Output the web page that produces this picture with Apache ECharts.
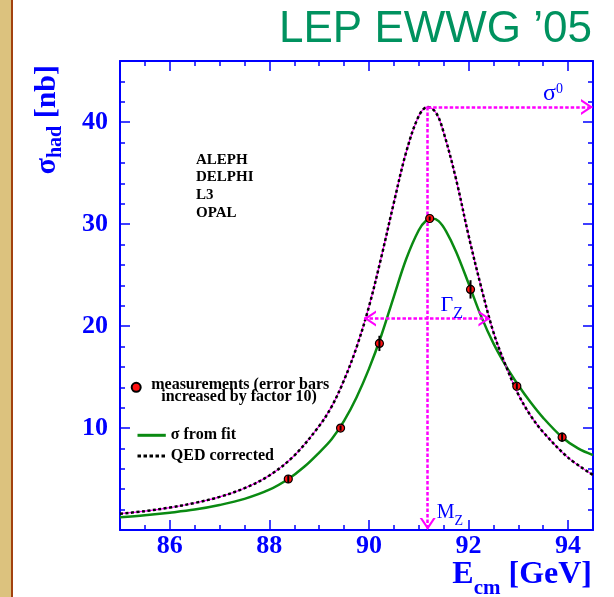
<!DOCTYPE html>
<html lang="en">
<head>
  <meta charset="UTF-8">
  <title>Z lineshape</title>
  <script src="https://cdn.jsdelivr.net/npm/echarts@6.0.0/dist/echarts.min.js"></script>
  <style>
    html, body { margin: 0; padding: 0; }
    body { background: linear-gradient(to right, #dcc27e 0, #dcc27e 11px, #a2410f 11px, #a2410f 13px, #fff 13px); }
    #chart { width: 614px; height: 597px; }
  </style>
</head>
<body>
  <div id="chart"></div>
  <script>
    // measurements (errors already x10)
    const measE = [88.38, 89.43, 90.21, 91.22, 92.04, 92.97, 93.88]
    const measSigma = [5.0, 10.0, 18.3, 30.55, 23.6, 14.1, 9.1]
    const measErr = [0.4, 0.25, 0.75, 0.2, 0.9, 0.3, 0.45]

    // sigma from fit (green)
    const fitE = [85.0, 85.5, 86.0, 86.5, 87.0, 87.5, 88.0, 88.38, 88.7, 89.0, 89.25, 89.5, 89.75, 90.0, 90.25, 90.5, 90.75, 91.0, 91.15, 91.27, 91.4, 91.55, 91.75, 92.0, 92.25, 92.5, 92.75, 93.0, 93.25, 93.5, 93.88, 94.2, 94.5]
    const fitSigma = [1.25, 1.45, 1.7, 2.0, 2.45, 3.05, 3.95, 5.0, 6.2, 7.6, 8.9, 10.7, 13.0, 15.8, 19.1, 22.9, 26.6, 29.4, 30.35, 30.55, 30.3, 29.3, 27.3, 24.2, 21.0, 18.3, 16.1, 14.2, 12.5, 11.0, 9.1, 8.0, 7.35]

    // QED corrected (dotted)
    const qedE = [85.0, 85.5, 86.0, 86.5, 87.0, 87.5, 88.0, 88.5, 89.0, 89.25, 89.5, 89.75, 90.0, 90.25, 90.5, 90.75, 91.0, 91.18, 91.35, 91.5, 91.75, 92.0, 92.25, 92.5, 92.75, 93.0, 93.25, 93.5, 94.0, 94.5]
    const qedSigma = [1.6, 1.85, 2.2, 2.65, 3.25, 4.1, 5.35, 7.3, 10.2, 12.1, 14.7, 17.9, 21.9, 26.8, 32.1, 37.1, 40.6, 41.5, 40.9, 39.0, 34.4, 28.9, 23.9, 19.4, 16.1, 13.3, 11.2, 9.6, 7.1, 5.4]

    const xTicks = [86, 88, 90, 92, 94]
    const yTicks = [10, 20, 30, 40]

    // annotation positions
    const MZ = 91.18
    const SIGMA0 = 41.5
    const HALF = 20.75
    const GAMMA_LO = 89.9
    const GAMMA_HI = 92.44

    const blue = '#0000ff'
    const magenta = '#ff00ff'
    const serif = 'Liberation Serif'
    const chevron = 'path://M0,12L8,0L16,12L13.5,12L8,3.75L2.5,12Z'

    const dom = document.getElementById('chart')
    const myChart = echarts.init(dom)

    const pairs = (xs, ys) => xs.map((x, i) => [x, ys[i]])

    function xAxisOf(pos, major, withLine) {
      return {
        type: 'value', position: pos, min: 85, max: 94.5, interval: 0.5,
        axisLine: { show: withLine, onZero: false, lineStyle: { color: blue, width: 2 } },
        axisTick: major
          ? { inside: true, length: 10, customValues: xTicks, lineStyle: { color: blue, width: 1.5 } }
          : { inside: true, length: 5, lineStyle: { color: blue, width: 1.5 } },
        axisLabel: { show: false },
        splitLine: { show: false }
      }
    }
    function yAxisOf(pos, major, withLine) {
      return {
        type: 'value', position: pos, min: 0, max: 46, interval: 2,
        axisLine: { show: withLine, onZero: false, lineStyle: { color: blue, width: 2 } },
        axisTick: major
          ? { inside: true, length: 10, customValues: yTicks, lineStyle: { color: blue, width: 1.5 } }
          : { inside: true, length: 5, lineStyle: { color: blue, width: 1.5 } },
        axisLabel: { show: false },
        splitLine: { show: false }
      }
    }

    const xMain = xAxisOf('bottom', false, true)
    xMain.axisLabel = { show: true, customValues: xTicks, color: blue, fontFamily: serif, fontWeight: 'bold', fontSize: 26, margin: 3 }
    xMain.name = '{s|E}{sub|cm} {s|[GeV]}'
    xMain.nameLocation = 'end'
    xMain.nameGap = -1
    xMain.nameTextStyle = {
      align: 'right', verticalAlign: 'top', padding: [29, 0, 0, 0],
      color: blue, fontFamily: serif, fontWeight: 'bold', fontSize: 32,
      rich: {
        s: { color: blue, fontFamily: serif, fontWeight: 'bold', fontSize: 32, verticalAlign: 'top' },
        sub: { color: blue, fontFamily: serif, fontWeight: 'bold', fontSize: 21, verticalAlign: 'top', padding: [19, 0, 0, 0] }
      }
    }

    const yMain = yAxisOf('left', false, true)
    yMain.axisLabel = { show: true, customValues: yTicks, color: blue, fontFamily: serif, fontWeight: 'bold', fontSize: 26, margin: 12 }
    yMain.name = '{s|σ}{sub|had} {s|[nb]}'
    yMain.nameLocation = 'end'
    yMain.nameRotate = 90
    yMain.nameGap = -4
    yMain.nameTextStyle = {
      align: 'right', verticalAlign: 'bottom', padding: [0, 0, 54, 0],
      color: blue, fontFamily: serif, fontWeight: 'bold', fontSize: 30,
      rich: {
        s: { color: blue, fontFamily: serif, fontWeight: 'bold', fontSize: 30, verticalAlign: 'top' },
        sub: { color: blue, fontFamily: serif, fontWeight: 'bold', fontSize: 20, verticalAlign: 'top', padding: [14, 0, 0, 0] }
      }
    }

    const legendText = { fontFamily: serif, fontWeight: 'bold', fontSize: 16, color: '#000' }

    const option = {
      animation: false,
      textStyle: { fontFamily: serif },
      grid: { left: 120, right: 21, top: 61, bottom: 67, containLabel: false, outerBoundsMode: 'none' },
      title: [
        {
          text: 'LEP EWWG \u201905', right: 22, top: 8, padding: 0,
          textStyle: { fontFamily: 'Liberation Sans', fontWeight: 'normal', fontSize: 44, color: '#00925f' }
        },
        {
          text: 'ALEPH\nDELPHI\nL3\nOPAL', left: 196, top: 151, padding: 0,
          textStyle: { fontFamily: serif, fontWeight: 'bold', fontSize: 15, lineHeight: 17.7, color: '#000' }
        }
      ],
      legend: [
        {
          data: ['measurements'], left: 130.7, top: 371.8, padding: 0,
          itemWidth: 20, itemHeight: 9, selectedMode: false,
          formatter: () => '{a|measurements (error bars}\n{b|increased by factor 10)}',
          textStyle: Object.assign({}, legendText, {
            lineHeight: 12, padding: [7, 0, 0, 0],
            rich: {
              a: Object.assign({ lineHeight: 12 }, legendText),
              b: Object.assign({ lineHeight: 12, padding: [0, 0, 0, 10] }, legendText)
            }
          })
        },
        {
          data: ['σ from fit'], left: 136, top: 425.7, padding: 0,
          itemWidth: 28.3, itemHeight: 24, selectedMode: false,
          itemStyle: { opacity: 0 },
          lineStyle: { color: '#0a8a12', width: 3 },
          textStyle: Object.assign({ padding: [0, 0, 7, 0] }, legendText)
        },
        {
          data: ['QED corrected'], left: 136, top: 446.3, padding: 0,
          itemWidth: 28.3, itemHeight: 24, selectedMode: false,
          itemStyle: { opacity: 0 },
          lineStyle: { color: '#000', width: 3, type: [3.5, 2.5] },
          textStyle: Object.assign({ padding: [0, 0, 4, 0] }, legendText)
        }
      ],
      xAxis: [xMain, xAxisOf('bottom', true, false), xAxisOf('top', false, true), xAxisOf('top', true, false)],
      yAxis: [yMain, yAxisOf('left', true, false), yAxisOf('right', false, true), yAxisOf('right', true, false)],
      series: [
        {
          name: 'σ from fit', type: 'line', symbol: 'none', smooth: 0.35, z: 2,
          lineStyle: { color: '#0a8a12', width: 2.5 }, itemStyle: { color: '#0a8a12' },
          data: pairs(fitE, fitSigma)
        },
        {
          name: 'qed base', type: 'line', symbol: 'none', smooth: 0.35, z: 3,
          lineStyle: { color: magenta, width: 1.2 },
          data: pairs(qedE, qedSigma)
        },
        {
          name: 'QED corrected', type: 'line', symbol: 'none', smooth: 0.35, z: 4, clip: false,
          lineStyle: { color: '#000', width: 2.5, type: [3, 2.5] }, itemStyle: { color: '#000' },
          data: pairs(qedE, qedSigma),
          markLine: {
            silent: true, animation: false,
            symbol: [chevron, chevron], symbolSize: [16, 12], symbolOffset: [[0, 6], [0, 6]],
            lineStyle: { color: magenta, width: 2.5, type: [3.5, 2] },
            itemStyle: { color: magenta },
            label: { show: false },
            data: [
              [{ coord: [MZ, SIGMA0], symbol: 'none' }, { coord: [MZ, 0] }],
              [{ coord: [MZ, SIGMA0], symbol: 'none' }, { coord: [94.5, SIGMA0] }],
              [{ coord: [GAMMA_LO, HALF] }, { coord: [GAMMA_HI, HALF] }]
            ]
          },
          markPoint: {
            silent: true, animation: false, symbol: 'circle', symbolSize: 0,
            itemStyle: { color: 'transparent' },
            data: [
              {
                name: 'sigma0', coord: [94.5, SIGMA0],
                label: {
                  show: true, position: [-50, -25], formatter: '{s|σ}{sup|0}',
                  rich: {
                    s: { color: blue, fontFamily: serif, fontSize: 24, verticalAlign: 'top' },
                    sup: { color: blue, fontFamily: serif, fontSize: 14, verticalAlign: 'top' }
                  }
                }
              },
              {
                name: 'gamma', coord: [GAMMA_HI, HALF],
                label: {
                  show: true, position: [-50, -24], formatter: '{s|Γ}{sub|Z}',
                  rich: {
                    s: { color: blue, fontFamily: serif, fontSize: 22, verticalAlign: 'top' },
                    sub: { color: blue, fontFamily: serif, fontSize: 16, verticalAlign: 'top', padding: [11, 0, 0, 0] }
                  }
                }
              },
              {
                name: 'mz', coord: [MZ, 0],
                label: {
                  show: true, position: [9, -27.5], formatter: '{s|M}{sub|Z}',
                  rich: {
                    s: { color: blue, fontFamily: serif, fontSize: 20, verticalAlign: 'top' },
                    sub: { color: blue, fontFamily: serif, fontSize: 14, verticalAlign: 'top', padding: [12, 0, 0, 0] }
                  }
                }
              }
            ]
          }
        },
        {
          name: 'measurements', type: 'scatter', symbol: 'circle', symbolSize: 8, z: 6,
          itemStyle: { color: '#ff1010', borderColor: '#000', borderWidth: 1.2, opacity: 1 },
          data: pairs(measE, measSigma)
        },
        {
          name: 'errors', type: 'custom', z: 7, silent: true,
          encode: { x: 0, y: 1 },
          data: measE.map((e, i) => [e, measSigma[i], measErr[i]]),
          renderItem: (params, api) => {
            const x = api.value(0)
            const y = api.value(1)
            const e = api.value(2)
            const lo = api.coord([x, y - e])
            const hi = api.coord([x, y + e])
            return {
              type: 'line',
              shape: { x1: lo[0], y1: lo[1], x2: hi[0], y2: hi[1] },
              style: { stroke: '#000', lineWidth: 2 }
            }
          }
        }
      ]
    }

    myChart.setOption(option)
  </script>
</body>
</html>
